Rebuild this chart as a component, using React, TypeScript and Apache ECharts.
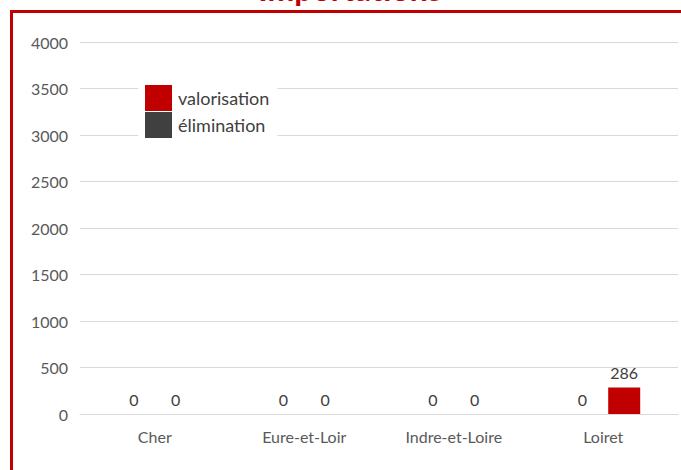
import React, { useEffect, useRef } from "react";
import * as echarts from "echarts";

const title = "Importations";
const categories = ["Cher", "Eure-et-Loir", "Indre-et-Loire", "Loiret"];
const eliminationValues = [0, 0, 0, 0];
const valorisationValues = [0, 0, 0, 286];
const legendNames = ["valorisation", "élimination"];

const FONT = "Lato, 'Open Sans', sans-serif";

export default function App() {
  const ref = useRef<HTMLDivElement>(null);
  useEffect(() => {
    if (!ref.current) return;
    const chart = echarts.init(ref.current, null, { renderer: "svg" });
    const labelStyle = {
      show: true,
      position: "top" as const,
      distance: 7,
      color: "#404040",
      fontSize: 16,
      fontFamily: FONT,
    };
    chart.setOption({
      animation: false,
      backgroundColor: "#ffffff",
      textStyle: { fontFamily: FONT },
      graphic: [
        {
          type: "rect",
          shape: { x: 11.5, y: 11.5, width: 720, height: 500 },
          style: { fill: "none", stroke: "#c00000", lineWidth: 3 },
          z: 100,
        },
        {
          type: "text",
          x: 350,
          y: -11.5,
          style: {
            text: title,
            fill: "#c00000",
            font: "bold 32px " + FONT,
            textAlign: "center",
            textVerticalAlign: "middle",
          },
          z: 100,
        },
      ],
      grid: { left: 80, right: 3, top: 42, bottom: 56, containLabel: false },
      legend: {
        data: legendNames,
        orient: "vertical",
        left: 138,
        top: 82,
        itemWidth: 27,
        itemHeight: 26,
        itemGap: 1,
        icon: "rect",
        backgroundColor: "#ffffff",
        padding: [3, 8, 3, 7],
        textStyle: { color: "#404040", fontSize: 18, fontFamily: FONT, padding: [0, 0, 0, 1] },
      },
      xAxis: {
        type: "category",
        data: categories,
        axisLine: { show: true, lineStyle: { color: "#d9d9d9" } },
        axisTick: { show: false },
        axisLabel: { color: "#595959", fontSize: 16, fontFamily: FONT, margin: 14 },
      },
      yAxis: {
        type: "value",
        min: 0,
        max: 4000,
        interval: 500,
        axisLine: { show: false },
        axisTick: { show: false },
        axisLabel: {
          color: "#595959",
          fontSize: 16,
          fontFamily: FONT,
          margin: 12,
          formatter: (v: number) => String(v),
        },
        splitLine: { lineStyle: { color: "#d9d9d9" } },
      },
      series: [
        {
          name: "élimination",
          type: "bar",
          data: eliminationValues,
          barWidth: 32,
          barGap: "31%",
          itemStyle: { color: "#404040" },
          label: labelStyle,
        },
        {
          name: "valorisation",
          type: "bar",
          data: valorisationValues,
          barWidth: 32,
          barGap: "31%",
          itemStyle: { color: "#c00000" },
          label: labelStyle,
        },
      ],
    });
    return () => chart.dispose();
  }, []);
  return (
    <div
      ref={ref}
      style={{ position: "absolute", left: 0, top: 0, width: 681, height: 470 }}
    />
  );
}
